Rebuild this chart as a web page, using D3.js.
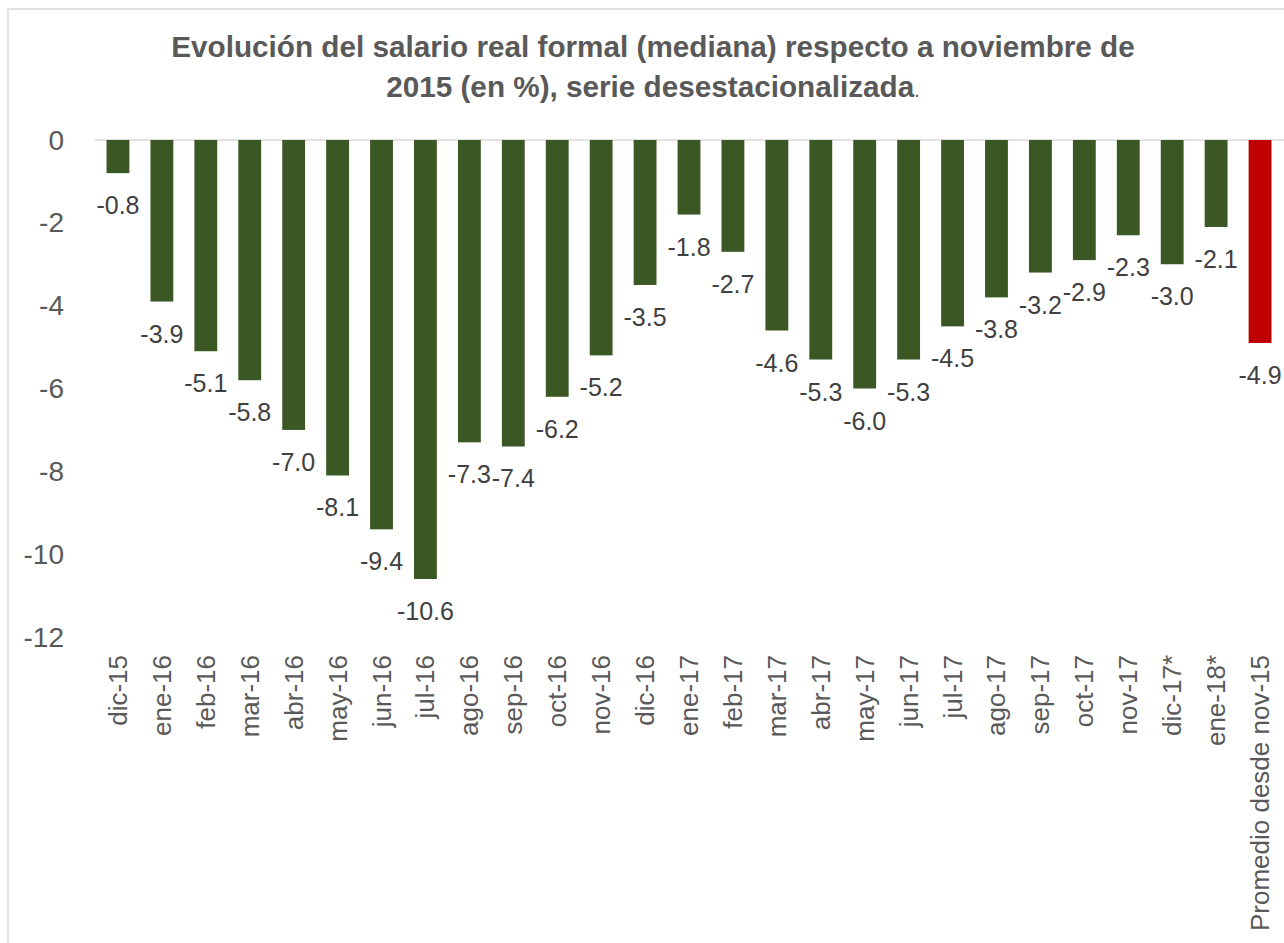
<!DOCTYPE html>
<html>
<head>
<meta charset="utf-8">
<script src="https://cdn.jsdelivr.net/npm/d3@7"></script>
<style>
  body { margin: 0; background: #fff; }
  svg { display: block; font-family: "Liberation Sans", Arial, sans-serif; }
</style>
</head>
<body>
<svg width="1284" height="943"></svg>
<script>
// Data
var categories = ["dic-15", "ene-16", "feb-16", "mar-16", "abr-16", "may-16", "jun-16", "jul-16",
  "ago-16", "sep-16", "oct-16", "nov-16", "dic-16", "ene-17", "feb-17", "mar-17", "abr-17",
  "may-17", "jun-17", "jul-17", "ago-17", "sep-17", "oct-17", "nov-17", "dic-17*", "ene-18*",
  "Promedio desde nov-15"];
var values = [-0.8, -3.9, -5.1, -5.8, -7.0, -8.1, -9.4, -10.6, -7.3, -7.4, -6.2, -5.2, -3.5,
  -1.8, -2.7, -4.6, -5.3, -6.0, -5.3, -4.5, -3.8, -3.2, -2.9, -2.3, -3.0, -2.1, -4.9];
var yTicks = [0, -2, -4, -6, -8, -10, -12];
var titleLines = ["Evolución del salario real formal (mediana) respecto a noviembre de",
  "2015 (en %), serie desestacionalizada"];

var svg = d3.select("svg"),
  width = +svg.attr("width"),
  height = +svg.attr("height");

// chart frame
svg.append("rect")
  .attr("x", 8).attr("y", 9)
  .attr("width", width + 20).attr("height", height + 20)
  .attr("fill", "#fff")
  .attr("stroke", "#d9d9d9")
  .attr("stroke-width", 1.5);

// scales
var x = d3.scaleBand()
  .domain(categories)
  .range([96, 1282])
  .paddingInner(0.48)
  .paddingOuter(0.24);

var y = d3.scaleLinear()
  .domain([-12, 0])
  .range([637, 140]);

// title
var title = svg.append("text")
  .attr("text-anchor", "middle")
  .attr("fill", "#595959")
  .style("font-weight", "bold")
  .style("font-size", "29.7px");
title.append("tspan").attr("x", 653).attr("y", 57).text(titleLines[0]);
title.append("tspan").attr("x", 653).attr("y", 97).text(titleLines[1]);
title.append("tspan").style("font-weight", "normal").style("font-size", "20px").text(".");

// zero line
svg.append("line")
  .attr("x1", 95).attr("x2", width)
  .attr("y1", y(0)).attr("y2", y(0))
  .attr("stroke", "#d9d9d9")
  .attr("stroke-width", 1.5);

// y axis labels
svg.append("g")
  .selectAll("text")
  .data(yTicks)
  .enter()
  .append("text")
    .attr("x", 64)
    .attr("y", function(d) { return y(d); })
    .attr("text-anchor", "end")
    .attr("dominant-baseline", "central")
    .attr("fill", "#595959")
    .style("font-size", "28px")
    .text(function(d) { return d; });

// bars
svg.append("g")
  .selectAll("rect")
  .data(values)
  .enter()
  .append("rect")
    .attr("x", function(d, i) { return x(categories[i]); })
    .attr("y", y(0))
    .attr("width", x.bandwidth())
    .attr("height", function(d) { return y(d) - y(0); })
    .attr("fill", function(d, i) { return i === values.length - 1 ? "#c00000" : "#3a5724"; });

// value labels
svg.append("g")
  .selectAll("text")
  .data(values)
  .enter()
  .append("text")
    .attr("x", function(d, i) { return x(categories[i]) + x.bandwidth() / 2; })
    .attr("y", function(d) { return y(d) + 41; })
    .attr("text-anchor", "middle")
    .attr("fill", "#404040")
    .style("font-size", "25px")
    .text(function(d) { return d.toFixed(1); });

// category labels
svg.append("g")
  .selectAll("text")
  .data(categories)
  .enter()
  .append("text")
    .attr("transform", function(d) {
      return "translate(" + (x(d) + x.bandwidth() / 2) + ",655) rotate(-90)";
    })
    .attr("text-anchor", "end")
    .attr("dominant-baseline", "central")
    .attr("fill", "#595959")
    .style("font-size", "26px")
    .text(function(d) { return d; });
</script>
</body>
</html>
